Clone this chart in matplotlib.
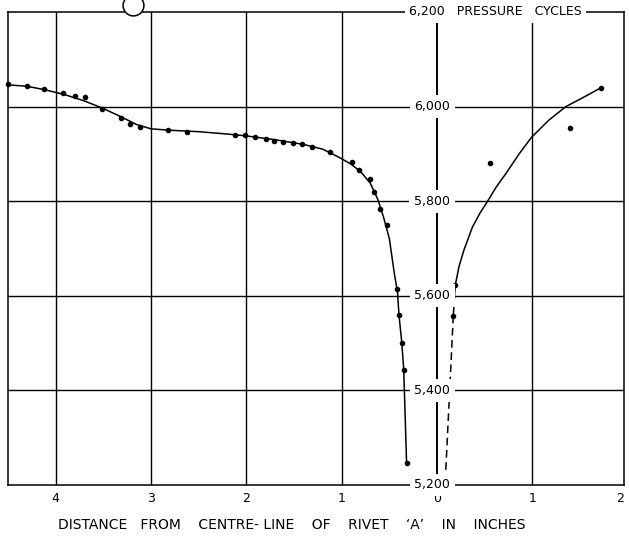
import matplotlib
matplotlib.use("Agg")
import matplotlib.pyplot as plt

# ---- data ----
# measured points, left of rivet (negative = left side)
left_x = [-4.50, -4.30, -4.12, -3.92, -3.80, -3.69, -3.51, -3.32, -3.22, -3.12,
          -2.82, -2.62, -2.12, -2.01, -1.91, -1.79, -1.71, -1.62, -1.51, -1.42,
          -1.31, -1.12, -0.89, -0.82, -0.70, -0.66, -0.60, -0.53, -0.42, -0.40,
          -0.37, -0.35, -0.32]
left_y = [6048, 6044, 6037, 6028, 6023, 6020, 5995, 5976, 5964, 5956,
          5951, 5947, 5940, 5939, 5936, 5932, 5927, 5925, 5923, 5921,
          5915, 5903, 5883, 5865, 5847, 5819, 5784, 5750, 5615, 5560,
          5500, 5444, 5246]

# measured points, right of rivet
right_x = [0.17, 0.19, 0.55, 1.39, 1.72]
right_y = [5558, 5622, 5881, 5955, 6040]

# faired curves
fit_left_x = [-4.50, -4.30, -4.10, -3.90, -3.70, -3.50, -3.30, -3.15, -3.00, -2.80,
              -2.50, -2.20, -2.00, -1.70, -1.40, -1.20, -1.03, -0.90, -0.80, -0.70,
              -0.62, -0.56, -0.50, -0.45, -0.415, -0.40, -0.37, -0.35, -0.32]
fit_left_y = [6046, 6043, 6035, 6025, 6012, 5996, 5977, 5962, 5953, 5950,
              5947, 5942, 5938, 5930, 5920, 5910, 5893, 5878, 5862, 5838,
              5803, 5765, 5720, 5649, 5607, 5560, 5500, 5444, 5246]

fit_right_x = [0.17, 0.19, 0.23, 0.28, 0.37, 0.45, 0.53, 0.62, 0.72, 0.86, 0.99,
               1.17, 1.35, 1.52, 1.72]
fit_right_y = [5558, 5622, 5662, 5696, 5745, 5775, 5800, 5830, 5858, 5900, 5935,
               5971, 6000, 6018, 6040]

dash_x = [0.17, 0.09]
dash_y = [5558, 5227]

x_ticks = [-4, -3, -2, -1, 0, 1, 2]
x_tick_labels = ["4", "3", "2", "1", "0", "1", "2"]
y_ticks = [5200, 5400, 5600, 5800, 6000]
y_tick_labels = ["5,200", "5,400", "5,600", "5,800", "6,000"]
top_label = "6,200   PRESSURE   CYCLES"
x_title = ("DISTANCE   FROM    CENTRE- LINE    OF    RIVET    "
           "\u2018A\u2019    IN    INCHES")

# ---- figure ----
plt.rcParams['font.family'] = ['DejaVu Sans']
fig = plt.figure(figsize=(6.29, 5.46), dpi=100)
ax = fig.add_axes([8/629, 1 - 485/546, (624 - 8)/629, (485 - 12)/546])
ax.set_xlim(-4.5, 1.96)
ax.set_ylim(5200, 6200)
ax.set_xticks([])
ax.set_yticks([])
for s in ax.spines.values():
    s.set_linewidth(1.1)
    s.set_color("black")

# grid
for gx in [-4, -3, -2, -1, 1]:
    ax.axvline(gx, color="black", lw=1.0, zorder=1)
ax.axvline(0, color="black", lw=1.4, zorder=1)
for gy in [5400, 5600, 5800, 6000]:
    ax.axhline(gy, color="black", lw=1.0, zorder=1)

# curves and points
ax.plot(fit_left_x, fit_left_y, color="black", lw=1.1, zorder=3,
        solid_joinstyle="round")
ax.plot(fit_right_x, fit_right_y, color="black", lw=1.1, zorder=3,
        solid_joinstyle="round")
ax.plot(dash_x, dash_y, color="black", lw=1.1, ls=(0, (5, 3)), zorder=3)
ax.plot(left_x, left_y, "o", color="black", ms=3, zorder=4, clip_on=False)
ax.plot(right_x, right_y, "o", color="black", ms=3, zorder=4, clip_on=False)

# y labels on the centre line
fs = 9
for yv, lab in zip(y_ticks, y_tick_labels):
    ax.text(-0.05, yv, lab, ha="center", va="center", fontsize=fs,
            zorder=6, clip_on=False,
            bbox=dict(facecolor="white", edgecolor="none", pad=3.5))
ax.text(-0.29, 6200, top_label, ha="left", va="center", fontsize=fs,
        zorder=6, clip_on=False,
        bbox=dict(facecolor="white", edgecolor="none", pad=3))

# x tick labels
for xv, lab in zip(x_ticks, x_tick_labels):
    ax.text(min(xv, 1.92), 5200 - 28, lab, ha="center", va="center",
            fontsize=fs, clip_on=False)

fig.text(292/629, 1 - 525/546, x_title, ha="center", va="center", fontsize=10)

# rivet hole symbol at the top
ax.plot([-3.19], [6215], "o", ms=15, mfc="white", mec="black", mew=1.1,
        zorder=7, clip_on=False)

fig.savefig("out.png", dpi=100, facecolor="white")
